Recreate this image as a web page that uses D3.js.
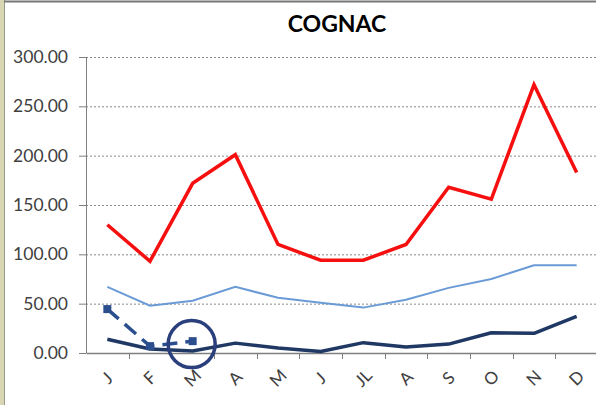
<!DOCTYPE html>
<html>
<head>
<meta charset="utf-8">
<script src="https://cdn.jsdelivr.net/npm/d3@7"></script>
<style>
  body { margin: 0; background: #fff; }
  svg { display: block; }
</style>
</head>
<body>
<svg id="chart" width="596" height="405"></svg>
<script>
// month labels (JL = July)
const months = ["J", "F", "M", "A", "M", "J", "JL", "A", "S", "O", "N", "D"];
const yTicks = [0, 50, 100, 150, 200, 250, 300];

// series
const redSeries   = [130, 93, 172, 201, 110, 94, 94, 110, 168, 156, 272, 183];
const lightSeries = [67, 48, 53, 67, 56, 51, 46, 54, 66, 75, 89, 89];
const darkSeries  = [14, 4, 2, 10, 5, 1.5, 10.5, 6, 9, 20.5, 20, 37];
const dashSeries  = [44.5, 7, 12, null, null, null, null, null, null, null, null, null];

let svg = d3.select("#chart"),
    margin = { top: 57, right: -2, bottom: 52, left: 86 },
    width = +svg.attr("width") - margin.left - margin.right,
    height = +svg.attr("height") - margin.top - margin.bottom;

// outer frame of the screenshot
svg.append("rect").attr("x", 0).attr("y", 0).attr("width", 4).attr("height", 405).attr("fill", "#d9d6b4");
svg.append("line").attr("x1", 4.5).attr("x2", 4.5).attr("y1", 0).attr("y2", 405).attr("stroke", "#9a9a88");
svg.append("line").attr("x1", 4).attr("x2", 596).attr("y1", 1.5).attr("y2", 1.5).attr("stroke", "#777").attr("stroke-width", 2);

let g = svg.append("g").attr("transform", "translate(" + margin.left + "," + margin.top + ")");

let x = d3.scaleBand()
    .domain(d3.range(months.length))
    .range([0, width]);

let y = d3.scaleLinear()
    .domain([0, 300])
    .range([height, 0]);

let cx = function(i) { return x(i) + x.bandwidth() / 2; };

// gridlines
g.append("g")
  .selectAll("line")
  .data(yTicks.slice(1))
  .enter().append("line")
    .attr("x1", 0)
    .attr("x2", width)
    .attr("y1", function(d) { return y(d) + 0.5; })
    .attr("y2", function(d) { return y(d) + 0.5; })
    .attr("stroke", "#8a8a8a")
    .attr("stroke-dasharray", "2,2");

// y axis
let yAxis = g.append("g")
    .call(d3.axisLeft(y).tickValues(yTicks).tickFormat(d3.format(".2f")).tickSize(7).tickPadding(11));
yAxis.select(".domain").attr("stroke", "#7f7f7f").attr("d", "M-7,0.5H0.5V" + height);
yAxis.selectAll(".tick line").attr("stroke", "#7f7f7f");
yAxis.selectAll("text")
    .attr("font-family", "Lato, 'Open Sans', sans-serif")
    .attr("font-size", 17.5)
    .attr("fill", "#404040");

// x axis
let xAxis = g.append("g")
    .attr("transform", "translate(0," + height + ")")
    .call(d3.axisBottom(x).tickSize(0).tickFormat(""));
xAxis.select(".domain").attr("stroke", "#7f7f7f").attr("stroke-width", 1.5);
g.append("g")
  .selectAll("line")
  .data(d3.range(1, months.length))
  .enter().append("line")
    .attr("x1", function(d) { return Math.round(x(d)) + 0.5; })
    .attr("x2", function(d) { return Math.round(x(d)) + 0.5; })
    .attr("y1", height)
    .attr("y2", height + 6)
    .attr("stroke", "#7f7f7f");

g.append("g")
  .selectAll("text")
  .data(months)
  .enter().append("text")
    .attr("transform", function(d, i) { return "translate(" + cx(i) + "," + (height + 25) + ") rotate(-45)"; })
    .attr("text-anchor", "middle")
    .attr("dy", "0.35em")
    .attr("font-family", "Lato, 'Open Sans', sans-serif")
    .attr("font-size", 17)
    .attr("fill", "#404040")
    .text(function(d) { return d; });

// lines
let line = d3.line()
    .defined(function(d) { return d != null; })
    .x(function(d, i) { return cx(i); })
    .y(function(d) { return y(d); });

g.append("path").datum(lightSeries)
    .attr("fill", "none").attr("stroke", "#6b9bd6").attr("stroke-width", 2).attr("d", line);

g.append("path").datum(darkSeries)
    .attr("fill", "none").attr("stroke", "#1f3864").attr("stroke-width", 3.5)
    .attr("stroke-linejoin", "round").attr("d", line);

g.append("path").datum(redSeries)
    .attr("fill", "none").attr("stroke", "#f50f0f").attr("stroke-width", 3.5).attr("d", line);

g.append("path").datum(dashSeries)
    .attr("fill", "none").attr("stroke", "#2b4f8e").attr("stroke-width", 3.5)
    .attr("stroke-dasharray", "15,8").attr("d", line);

g.append("g")
  .selectAll("rect")
  .data(dashSeries.map(function(v, i) { return { v: v, i: i }; }).filter(function(d) { return d.v != null; }))
  .enter().append("rect")
    .attr("x", function(d) { return cx(d.i) - 4; })
    .attr("y", function(d) { return y(d.v) - 4; })
    .attr("width", 8)
    .attr("height", 8)
    .attr("fill", "#2b4f8e");

// highlight circle around March
g.append("circle")
    .attr("cx", cx(2) - 1)
    .attr("cy", y(9))
    .attr("r", 23.5)
    .attr("fill", "none")
    .attr("stroke", "#2b3f7c")
    .attr("stroke-width", 3.5);

// title
svg.append("text")
    .attr("x", 337)
    .attr("y", 32)
    .attr("text-anchor", "middle")
    .attr("font-family", "Lato, 'Open Sans', sans-serif")
    .attr("font-weight", "bold")
    .attr("font-size", 23)
    .attr("fill", "#000")
    .text("COGNAC");
</script>
</body>
</html>
